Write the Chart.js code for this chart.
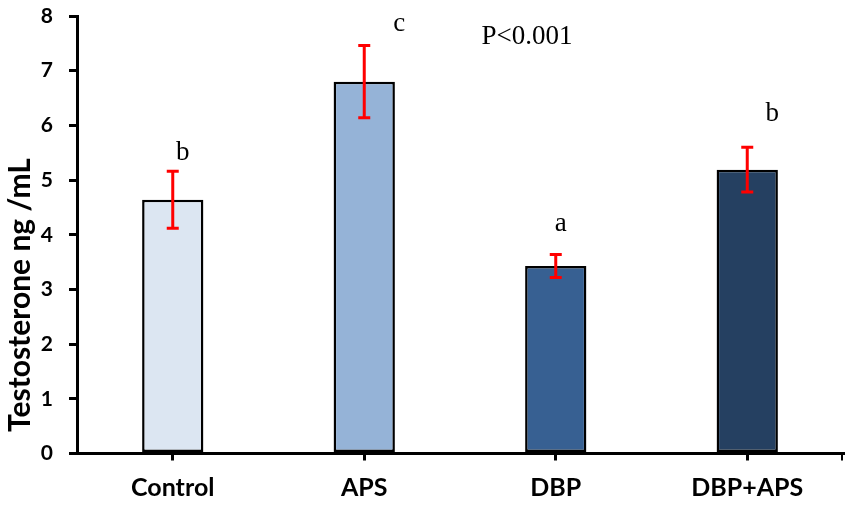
<!DOCTYPE html>
<html>
<head>
<meta charset="utf-8">
<script src="https://cdn.jsdelivr.net/npm/chart.js@4"></script>
<style>
  html, body { margin: 0; padding: 0; background: #fff; }
  #wrap { width: 851px; height: 507px; }
</style>
</head>
<body>
<div id="wrap"><canvas id="tChart"></canvas></div>
<script>
const groups = ["Control", "APS", "DBP", "DBP+APS"];
const testosterone = [4.64, 6.80, 3.43, 5.19];
const errors = [0.52, 0.66, 0.21, 0.41];
const letters = ["b", "c", "a", "b"];
const letterAt = [5.50, 7.85, 4.19, 6.21]; // value where letter sits
const yTicks = [0, 1, 2, 3, 4, 5, 6, 7, 8];
const yTitle = "Testosterone ng /mL";

const barColors = ["#dce6f2", "#95b3d7", "#376092", "#254061"];
const letterDx = [10, 35, 5, 25];

// red error bars, significance letters, axis title (sits low, like the original)
const extras = {
    id: "extras",
    afterDatasetsDraw(chart) {
        const ctx = chart.ctx;
        const x = chart.scales.x, y = chart.scales.y;
        const area = chart.chartArea;
        ctx.save();
        // small tick at the right end of the x axis
        ctx.strokeStyle = "#000";
        ctx.lineWidth = 2;
        ctx.beginPath();
        ctx.moveTo(area.right - 1, area.bottom);
        ctx.lineTo(area.right - 1, area.bottom + 7);
        ctx.stroke();

        ctx.strokeStyle = "#ff0000";
        ctx.lineWidth = 3;
        testosterone.forEach((v, i) => {
            const cx = x.getPixelForValue(i);
            const top = y.getPixelForValue(v + errors[i]);
            const bot = y.getPixelForValue(v - errors[i]);
            ctx.beginPath();
            ctx.moveTo(cx, top); ctx.lineTo(cx, bot);
            ctx.moveTo(cx - 6, top); ctx.lineTo(cx + 6, top);
            ctx.moveTo(cx - 6, bot); ctx.lineTo(cx + 6, bot);
            ctx.stroke();
        });
        ctx.fillStyle = "#000";
        ctx.font = "27px 'Liberation Serif'";
        ctx.textAlign = "center";
        ctx.textBaseline = "middle";
        letters.forEach((t, i) => {
            ctx.fillText(t, x.getPixelForValue(i) + letterDx[i], y.getPixelForValue(letterAt[i]));
        });
        ctx.fillText("P<0.001", 527, 37);

        ctx.translate(30, 295);
        ctx.rotate(-Math.PI / 2);
        ctx.font = "bold 30px Lato";
        ctx.textBaseline = "alphabetic";
        ctx.fillText(yTitle, 0, 0);
        ctx.restore();
    }
};

new Chart(document.getElementById("tChart"), {
    type: "bar",
    data: {
        labels: groups,
        datasets: [{
            data: testosterone,
            backgroundColor: barColors,
            borderColor: "#000",
            borderWidth: 2.5,
            borderSkipped: false,
            barPercentage: 0.32,
            categoryPercentage: 1,
        }],
    },
    options: {
        responsive: true,
        maintainAspectRatio: false,
        animation: false,
        layout: { padding: { top: 16, right: 8, left: 0, bottom: 0 } },
        plugins: { legend: { display: false }, tooltip: { enabled: false } },
        scales: {
            x: {
                grid: { drawOnChartArea: false, offset: false, color: "#000", lineWidth: 3, tickLength: 7 },
                border: { color: "#000", width: 3 },
                ticks: { color: "#000", padding: 12, font: { family: "Lato", weight: "bold", size: 25 } },
                afterFit(s) { s.height = 53.5; s.paddingLeft = 0; s.paddingRight = 0; },
            },
            y: {
                min: 0,
                max: 8,
                afterBuildTicks(s) { s.ticks = yTicks.map(v => ({ value: v })); },
                grid: { drawOnChartArea: false, color: "#000", lineWidth: 3, tickLength: 8 },
                border: { color: "#000", width: 3 },
                ticks: { color: "#000", padding: 16, font: { family: "Lato", weight: "bold", size: 21 } },
                afterFit(s) { s.width = 77; s.paddingTop = 0; s.paddingBottom = 0; },
            },
        },
    },
    plugins: [extras],
});
</script>
</body>
</html>
